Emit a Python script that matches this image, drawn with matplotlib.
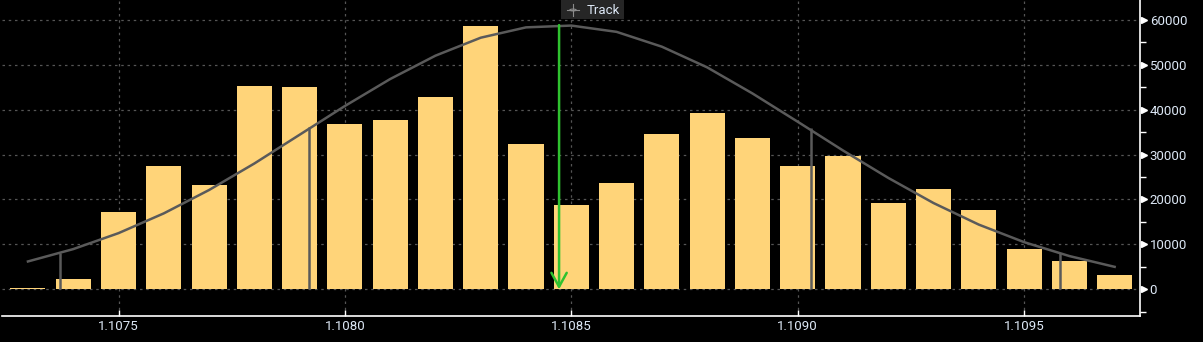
import matplotlib
matplotlib.use("Agg")
import matplotlib.pyplot as plt
import matplotlib.transforms as mtransforms
from matplotlib.patches import Rectangle, Circle
from matplotlib.lines import Line2D
from matplotlib.ticker import MultipleLocator, FixedLocator

# ---- data ----
bin_centers = [1.1073, 1.1074, 1.1075, 1.1076, 1.1077, 1.1078, 1.1079, 1.1080,
               1.1081, 1.1082, 1.1083, 1.1084, 1.1085, 1.1086, 1.1087, 1.1088,
               1.1089, 1.1090, 1.1091, 1.1092, 1.1093, 1.1094, 1.1095, 1.1096,
               1.1097]
volumes = [300, 2300, 17200, 27400, 23200, 45250, 45000, 36800,
           37700, 42800, 58600, 32300, 18800, 23700, 34600, 39200,
           33700, 27400, 29700, 19200, 22300, 17600, 9000, 6300,
           3200]
curve_values = [6200, 8950, 12500, 16900, 22100, 28000, 34400, 40800,
                46800, 52000, 56000, 58300, 58700, 57300, 54000, 49400,
                43600, 37300, 30900, 24800, 19200, 14400, 10500, 7400,
                5000]
band_x = [1.10737, 1.10792, 1.10903, 1.10958]
band_heights = [8000, 36100, 35900, 8000]
track_x = 1.108473
track_top = 58800
track_label = "Track"
x_ticks = [1.1075, 1.1080, 1.1085, 1.1090, 1.1095]
x_tick_labels = ["1.1075", "1.1080", "1.1085", "1.1090", "1.1095"]
y_ticks = [0, 10000, 20000, 30000, 40000, 50000, 60000]

BG = "#000000"
BAR = "#FFD479"
TXT = "#dde8f6"
FONT = ["Roboto", "DejaVu Sans"]
W, H = 1203, 342

fig = plt.figure(figsize=(W / 100, H / 100), dpi=100, facecolor=BG)
ax = fig.add_axes([2 / W, 26 / H, 1138 / W, 316 / H])
ax.set_facecolor(BG)

ax.set_xlim(1.1072427, 1.109756)
ax.set_ylim(-5940, 64390)

# grid
for xt in x_ticks:
    ax.axvline(xt, color="#555555", lw=0.9, ls=(0, (2, 3)), zorder=0)
for yt in y_ticks:
    ax.axhline(yt, color="#555555", lw=0.9, ls=(0, (2, 3)), zorder=0)

# bars
ax.bar(bin_centers, volumes, width=0.0000775, color=BAR, zorder=2)

# distribution curve
ax.plot(bin_centers, curve_values, color="#5a5a5a", lw=1.8, zorder=3)

# sigma lines
ax.vlines(band_x, 0, band_heights, color="#5a5a5a", lw=1.8, zorder=3)

# track arrow
ax.annotate("", xy=(track_x, 0), xytext=(track_x, track_top),
            arrowprops=dict(arrowstyle="->,head_length=1.0,head_width=0.55",
                            color="#2fc22f", lw=1.8, shrinkA=0, shrinkB=0),
            zorder=4)

# track label box (pixel coords, origin top-left converted)
def px(x, y):
    return (x / W, 1 - y / H)

box_x0, box_x1, box_y0, box_y1 = 561, 624, 0, 19
fig.patches.append(Rectangle(px(box_x0, box_y1), (box_x1 - box_x0) / W,
                             (box_y1 - box_y0) / H, transform=fig.transFigure,
                             fc="#262626", ec="none", zorder=10))
cx, cy = 573, 10
icon_col = "#8a8a8a"
fig.patches.append(Circle(px(cx, cy), 3.2 / W, transform=fig.transFigure,
                          fc="none", ec=icon_col, lw=0.8, zorder=11))
fig.lines.append(Line2D([(cx - 6) / W, (cx + 6) / W], [1 - cy / H] * 2,
                        transform=fig.transFigure, color=icon_col, lw=0.8, zorder=11))
fig.lines.append(Line2D([cx / W] * 2, [1 - (cy - 6) / H, 1 - (cy + 6) / H],
                        transform=fig.transFigure, color=icon_col, lw=0.8, zorder=11))
fig.text(*px(587, 10.5), track_label, ha="left", va="center", color=TXT,
         fontsize=9.5, family=FONT, zorder=12)

# spines
for s in ["top", "left"]:
    ax.spines[s].set_visible(False)
ax.spines["bottom"].set_color("white")
ax.spines["right"].set_color("white")
ax.spines["bottom"].set_linewidth(1.2)
ax.spines["right"].set_linewidth(1.2)

# x ticks
ax.xaxis.set_major_locator(FixedLocator(x_ticks))
ax.set_xticklabels(x_tick_labels, family=FONT)
ax.tick_params(axis="x", direction="in", length=4, width=1, color="white",
               labelcolor=TXT, labelsize=9.5, pad=3)

# y ticks on right
ax.yaxis.tick_right()
ax.yaxis.set_major_locator(FixedLocator(y_ticks))
ax.yaxis.set_minor_locator(MultipleLocator(5000))
ax.set_yticklabels([str(v) for v in y_ticks], family=FONT)
ax.tick_params(axis="y", which="major", length=0, pad=7,
               labelcolor=TXT, labelsize=9.5)
ax.tick_params(axis="y", which="minor", direction="out", length=4, width=1,
               color="white")
for lbl in ax.get_yticklabels():
    lbl.set_horizontalalignment("left")

# triangle markers at major y ticks
tri_tr = mtransforms.blended_transform_factory(ax.transAxes, ax.transData)
ax.plot([1.0035] * len(y_ticks), y_ticks, ls="none", marker=">", ms=5,
        color="white", transform=tri_tr, clip_on=False, zorder=6)

fig.savefig("out.png", dpi=100, facecolor=BG)
